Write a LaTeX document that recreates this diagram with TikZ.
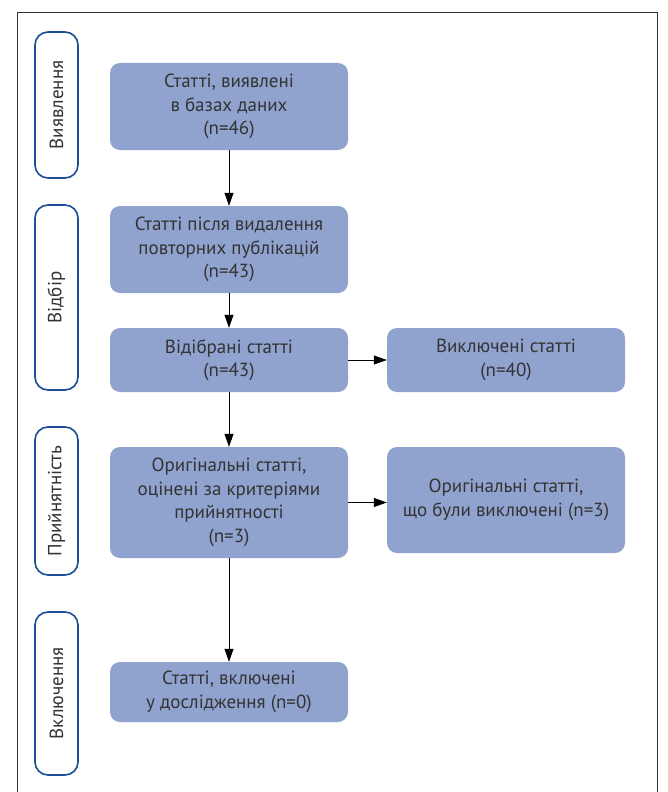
\documentclass[tikz,border=0pt]{standalone}
\usepackage{fontspec}
\setmainfont{PT Sans}
\usetikzlibrary{arrows.meta}
\definecolor{boxfill}{HTML}{90A3CF}
\definecolor{sideblue}{HTML}{1D4E98}
\definecolor{txt}{HTML}{333333}
\begin{document}
\begin{tikzpicture}[x=1pt,y=-1pt,
  flowbox/.style={draw=none,fill=boxfill,rounded corners=10pt,minimum width=238pt,
    align=center,text=txt,font=\fontsize{19}{23.5}\selectfont,inner sep=2pt},
  sidebox/.style={draw=sideblue,line width=1.6pt,fill=white,rounded corners=13pt,
    minimum width=43pt,inner sep=0pt},
  sidetext/.style={rotate=90,text=txt,font=\fontsize{19}{22}\selectfont},
  arr/.style={draw=black,line width=0.8pt,-{Triangle[length=13pt,width=9pt]}}]
\useasboundingbox (0,0) rectangle (668,792);
\fill[white] (0,0) rectangle (668,792);
\draw[line width=0.9pt,black!80] (17,792) -- (17,12) -- (657,12) -- (657,792);

% side labels
\node[sidebox,minimum height=146pt] (s1) at (56.5,105) {};
\node[sidetext] (s1t) at (s1.center) {Виявлення};
\node[sidebox,minimum height=185pt] (s2) at (56.5,297.5) {};
\node[sidetext] (s2t) at (s2.center) {Відбір};
\node[sidebox,minimum height=148pt] (s3) at (56.5,501) {};
\node[sidetext] (s3t) at (s3.center) {Прийнятність};
\node[sidebox,minimum height=163pt] (s4) at (56.5,693.5) {};
\node[sidetext] (s4t) at (s4.center) {Включення};

% flow boxes
\node[flowbox,minimum height=87pt] (b1) at (229,106.5) {Статті, виявлені\\в базах даних\\(n=46)};
\node[flowbox,minimum height=87pt] (b2) at (229,249.5) {Статті після видалення\\повторних публікацій\\(n=43)};
\node[flowbox,minimum height=64pt] (b3) at (229,360) {Відібрані статті\\(n=43)};
\node[flowbox,minimum height=64pt] (b4) at (506,360) {Виключені статті\\(n=40)};
\node[flowbox,minimum height=111pt] (b5) at (229,502.5) {Оригінальні статті,\\оцінені за критеріями\\прийнятності\\(n=3)};
\node[flowbox,minimum height=106pt] (b6) at (506,500) {Оригінальні статті,\\що були виключені (n=3)};
\node[flowbox,minimum height=60pt] (b7) at (229,692) {Статті, включені\\у дослідження (n=0)};

% connectors
\draw[arr] (b1) -- (b2);
\draw[arr] (b2) -- (b3);
\draw[arr] (b3) -- (b4);
\draw[arr] (b3) -- (b5);
\draw[arr] (b5.east) -- (b5.east -| b6.west);
\draw[arr] (b5) -- (b7);
\end{tikzpicture}
\end{document}
